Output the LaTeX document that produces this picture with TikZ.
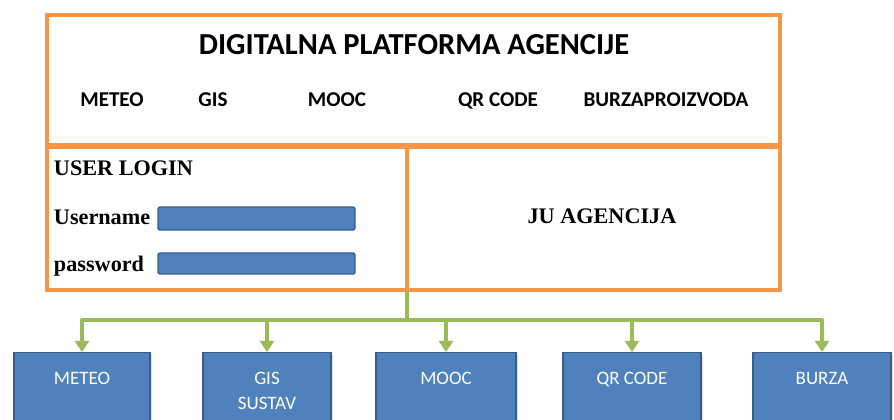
\documentclass[tikz,border=0pt]{standalone}
\usepackage{fontspec}
\setmainfont{Liberation Serif}
\setsansfont{Carlito}
\usetikzlibrary{positioning, arrows.meta, shadows}
\definecolor{narancasta}{HTML}{F79646}
\definecolor{zelena}{HTML}{9BBB59}
\definecolor{plava}{HTML}{4F81BD}
\definecolor{plavarub}{HTML}{385D8A}

\begin{document}
\begin{tikzpicture}[x=0.025cm, y=-0.025cm,
  okvir/.style={draw=narancasta, line width=2.4pt, fill=white},
  naslov/.style={font=\sffamily\bfseries\fontsize{21.7}{24}\selectfont},
  modul/.style={font=\sffamily\bfseries\fontsize{15}{18}\selectfont, anchor=base},
  prijava/.style={font=\rmfamily\bfseries\fontsize{15.8}{19}\selectfont},
  polje/.style={draw=plavarub, line width=1pt, fill=plava, rounded corners=1.5pt},
  kutija/.style={draw=plavarub, line width=1pt, fill=plava, minimum width=3.4cm,
    minimum height=2.4cm, anchor=north, drop shadow={opacity=0.25, shadow xshift=1.5pt, shadow yshift=-1.5pt}},
  kutijatekst/.style={font=\sffamily\fontsize{13.5}{18}\selectfont, text=white, align=center},
  veza/.style={draw=zelena, line width=2.8pt},
  strelica/.style={veza, -{Triangle[width=10pt, length=8pt]}}
]

\clip (0,0) rectangle (894,420);
\fill[white] (0,0) rectangle (894,420);

% Gornji okvir - platforma
\draw[okvir] (47,15) rectangle (780,145);
\node[naslov] (naslov) at (414,45) {DIGITALNA PLATFORMA AGENCIJE};
\node[modul] (mMeteo) at (112,106) {METEO};
\node[modul] (mGis) at (213,106) {GIS};
\node[modul] (mMooc) at (337,106) {MOOC};
\node[modul] (mQr) at (498,106) {QR CODE};
\node[modul] (mBurza) at (666,106) {BURZAPROIZVODA};

% Donji okviri - prijava i agencija
\draw[okvir, drop shadow={opacity=0.25, shadow xshift=1.5pt, shadow yshift=-1.5pt}] (47,147) rectangle (407,290);
\draw[okvir, drop shadow={opacity=0.25, shadow xshift=1.5pt, shadow yshift=-1.5pt}] (407,147) rectangle (780,290);

\node[prijava, anchor=west] (login) at (49,168) {USER LOGIN};
\node[prijava, anchor=west] (user) at (49,217) {Username};
\node[prijava, anchor=west] (pass) at (49,266) {password};
\draw[polje] (158,207) rectangle (355,230);
\draw[polje] (158,253) rectangle (355,274);

\node[prijava] (agencija) at (602,216) {JU AGENCIJA};

% Moduli
\node[kutija, minimum width=3.4cm] (meteo) at (82,352) {};
\node[kutija, minimum width=3.2cm] (gis) at (267,352) {};
\node[kutija, minimum width=3.5cm] (mooc) at (446,352) {};
\node[kutija, minimum width=3.45cm] (qr) at (632,352) {};
\node[kutija, minimum width=3.45cm] (burza) at (822,352) {};

\node[kutijatekst, below=0.38cm of meteo.north] (tMeteo) {METEO};
\node[kutijatekst, below=0.38cm of gis.north] (tGis) {GIS\\SUSTAV};
\node[kutijatekst, below=0.38cm of mooc.north] (tMooc) {MOOC};
\node[kutijatekst, below=0.38cm of qr.north] (tQr) {QR CODE};
\node[kutijatekst, below=0.38cm of burza.north] (tBurza) {BURZA};

% Zelene veze
\coordinate (izvor) at (407,291);
\coordinate (cvor) at (407,320);
\draw[veza] (izvor) -- (cvor);
\draw[veza, line cap=round] (meteo.north |- cvor) -- (burza.north |- cvor);
\foreach \k in {meteo, gis, mooc, qr, burza}
  \draw[strelica] (\k.north |- cvor) -- (\k.north);

\end{tikzpicture}
\end{document}
